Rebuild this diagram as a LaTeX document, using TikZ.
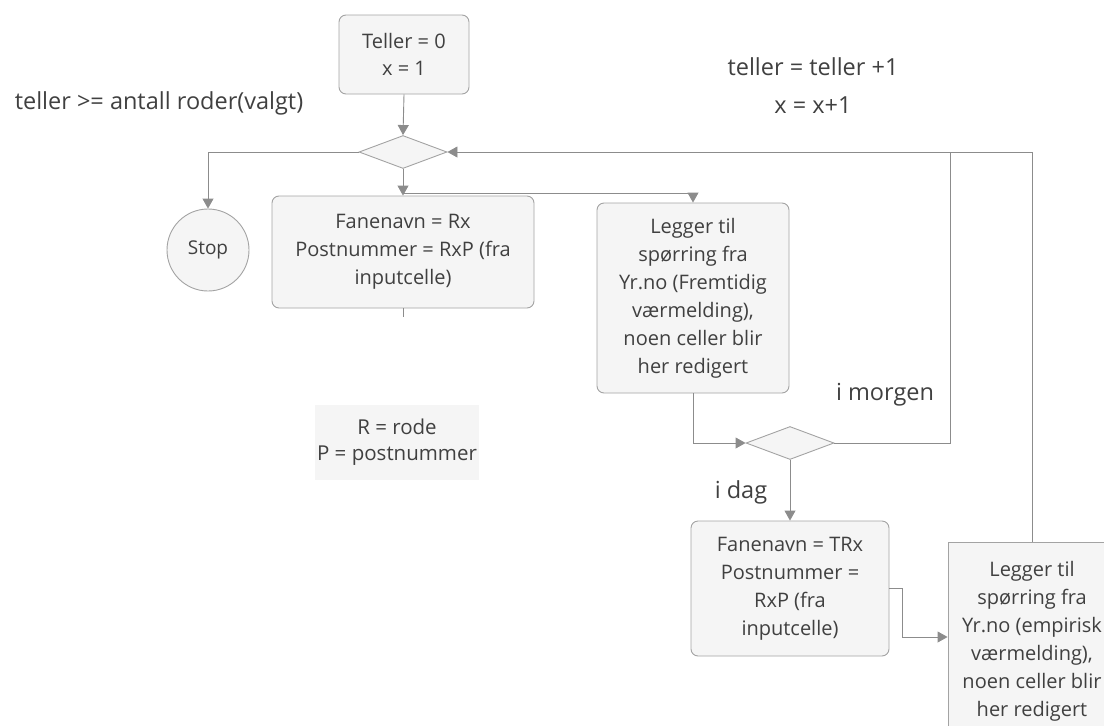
\documentclass[tikz,border=0pt]{standalone}
\usepackage{fontspec}
\setmainfont{Open Sans}
\usetikzlibrary{arrows.meta,shapes.geometric,calc}
\definecolor{linegray}{HTML}{8C8C8C}
\definecolor{boxborder}{HTML}{A3A3A3}
\definecolor{boxfill}{HTML}{F5F5F5}
\definecolor{txt}{HTML}{404040}
\begin{document}
\begin{tikzpicture}[x=1pt,y=-1pt,
  every node/.style={text=txt,inner sep=0pt},
  boxtext/.style={font=\fontsize{20}{28}\selectfont},
  freetext/.style={font=\fontsize{23.5}{30}\selectfont,align=center},
  procbox/.style={boxtext,draw=boxborder,fill=boxfill,line width=0.9pt,rounded corners=7pt,align=center},
  plainbox/.style={boxtext,draw=boxborder,fill=boxfill,line width=0.9pt,align=center},
  decision/.style={diamond,draw=boxborder,fill=boxfill,line width=0.9pt,aspect=2.6,minimum width=88pt,minimum height=33pt},
  endpoint/.style={circle,draw=boxborder,fill=boxfill,line width=0.9pt,minimum size=82pt,font=\fontsize{19}{24}\selectfont},
  conn/.style={draw=linegray,line width=0.9pt},
  arrow/.style={conn,-{Triangle[width=11pt,length=10pt]}}]
\useasboundingbox (0,0) rectangle (1104,726);
\clip (0,0) rectangle (1104,726);

% process boxes
\node[procbox,minimum width=130pt,minimum height=79pt,font=\fontsize{20}{27}\selectfont] (init) at (404,54.5) {Teller = 0\\x = 1};
\node[decision] (check) at (403,152) {};
\node[endpoint] (stop) at (208,250) {Stop};
\node[procbox,minimum width=262pt,minimum height=112pt] (tab) at (403,252) {Fanenavn = Rx\\Postnummer = RxP (fra\\inputcelle)};
\node[procbox,minimum width=192pt,minimum height=190pt] (future) at (693,298) {Legger til\\spørring fra\\Yr.no (Fremtidig\\værmelding),\\noen celler blir\\her redigert};
\node[decision] (day) at (790,443) {};
\node[procbox,minimum width=198pt,minimum height=135pt] (ttab) at (790,588.5) {Fanenavn = TRx\\Postnummer =\\RxP (fra\\inputcelle)};
\node[plainbox,minimum width=168pt,minimum height=198pt] (past) at (1032,641) {Legger til\\spørring fra\\Yr.no (empirisk\\værmelding),\\noen celler blir\\her redigert};

% free texts
\node[freetext] (cond) at (159,103) {teller >= antall roder(valgt)};
\node[freetext] (inc1) at (813,67) {teller = teller +1};
\node[freetext] (inc2) at (813,105) {x = x+1};
\node[fill=boxfill,minimum width=164pt,minimum height=75pt,align=center,font=\fontsize{20.5}{26}\selectfont] (legend) at (397,442.5) {R = rode\\P = postnummer};
\node[freetext] (tomorrow) at (885,395) {i morgen};
\node[freetext] (today) at (741,492) {i dag};

% junctions
\coordinate (split) at (403,193);
\coordinate (loopA) at (950,152);
\coordinate (bend) at (902,637);

% connectors
\draw[arrow] (init.south) -- (check.north);
\draw[arrow] (check.west) -| (stop.north);
\draw[arrow] (check.south) -- (tab.north);
\draw[arrow] (split) -| (future.north);
\draw[conn] (tab.south) -- ++(0,9);
\draw[arrow] (future.south) |- (day.west);
\draw[conn] (day.east) -| (loopA);
\draw[arrow] (past.north) |- (check.east);
\draw[arrow] (day.south) -- (ttab.north);
\draw[arrow] (ttab.east) -| (bend) -- (bend -| past.west);
\end{tikzpicture}
\end{document}
